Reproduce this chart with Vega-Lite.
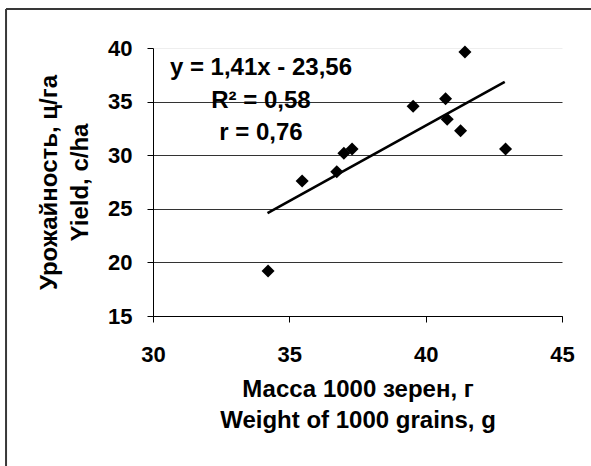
{
  "$schema": "https://vega.github.io/schema/vega-lite/v6.json",
  "width": 409,
  "height": 268,
  "autosize": {"type": "none"},
  "padding": {"left": 153, "top": 48, "right": 29, "bottom": 150},
  "background": "white",
  "config": {
    "view": {"stroke": null},
    "font": "Liberation Sans",
    "axis": {
      "labelFont": "Liberation Sans",
      "labelFontWeight": "bold",
      "labelFontSize": 22,
      "labelColor": "#000000",
      "titleFont": "Liberation Sans",
      "titleFontWeight": "bold",
      "titleFontSize": 24,
      "titleColor": "#000000",
      "titleLineHeight": 31,
      "domainColor": "#000000",
      "tickColor": "#000000",
      "tickSize": 6,
      "labelFlush": false,
      "labelOverlap": false
    }
  },
  "datasets": {
    "points": [
      {"x": 34.22, "y": 19.2},
      {"x": 35.47, "y": 27.59},
      {"x": 36.74, "y": 28.46},
      {"x": 37.0, "y": 30.18},
      {"x": 37.3, "y": 30.58},
      {"x": 39.54, "y": 34.56},
      {"x": 40.73, "y": 35.27},
      {"x": 40.79, "y": 33.35},
      {"x": 41.28, "y": 32.29},
      {"x": 41.44, "y": 39.63},
      {"x": 42.93, "y": 30.58}
    ],
    "trend": [
      {"x": 34.2, "y": 24.6},
      {"x": 42.9, "y": 36.85}
    ]
  },
  "layer": [
    {
      "data": {"name": "points"},
      "mark": {"type": "point", "shape": "diamond", "filled": true, "color": "#000000", "size": 170, "opacity": 1},
      "encoding": {
        "x": {
          "field": "x", "type": "quantitative",
          "scale": {"domain": [30, 45], "nice": false, "zero": false},
          "axis": {
            "values": [30, 35, 40, 45],
            "grid": false,
            "labelPadding": 22,
            "titlePadding": 12,
            "title": ["Масса 1000 зерен, г", "Weight of 1000 grains, g"]
          }
        },
        "y": {
          "field": "y", "type": "quantitative",
          "scale": {"domain": [15, 40], "nice": false, "zero": false},
          "axis": {
            "values": [15, 20, 25, 30, 35, 40],
            "grid": true,
            "gridColor": {"condition": {"test": "datum.value === 40", "value": "#eeeeee"}, "value": "#333333"},
            "labelPadding": 15,
            "titlePadding": 15,
            "title": ["Урожайность, ц/га", "Yield, c/ha"]
          }
        }
      }
    },
    {
      "data": {"values": [{}]},
      "mark": {"type": "rule", "stroke": "#383838", "strokeWidth": 2, "clip": false},
      "encoding": {
        "x": {"datum": 24.61, "type": "quantitative"},
        "y": {"datum": 43.64, "type": "quantitative"},
        "y2": {"datum": 0}
      }
    },
    {
      "data": {"values": [{}]},
      "mark": {"type": "rule", "stroke": "#383838", "strokeWidth": 2, "clip": false},
      "encoding": {
        "x": {"datum": 24.61, "type": "quantitative"},
        "x2": {"datum": 48},
        "y": {"datum": 43.64, "type": "quantitative"}
      }
    },
    {
      "data": {"name": "trend"},
      "mark": {"type": "line", "color": "#000000", "strokeWidth": 2.6},
      "encoding": {
        "x": {"field": "x", "type": "quantitative"},
        "y": {"field": "y", "type": "quantitative"}
      }
    },
    {
      "data": {"values": [{}]},
      "mark": {
        "type": "text",
        "text": ["y = 1,41x - 23,56", "R² = 0,58", "r = 0,76"],
        "font": "Liberation Sans",
        "fontWeight": "bold",
        "fontSize": 24,
        "lineHeight": 32.5,
        "align": "center",
        "baseline": "alphabetic",
        "color": "#000000"
      },
      "encoding": {
        "x": {"datum": 33.96, "type": "quantitative"},
        "y": {"datum": 37.48, "type": "quantitative"}
      }
    }
  ]
}
